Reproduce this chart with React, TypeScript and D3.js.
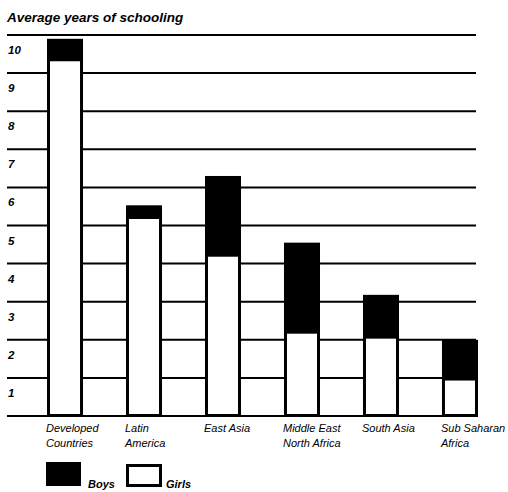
import * as d3 from 'd3';

const regions = [
  ['Developed', 'Countries'],
  ['Latin', 'America'],
  ['East Asia'],
  ['Middle East', 'North Africa'],
  ['South Asia'],
  ['Sub Saharan', 'Africa'],
];
const boys = [9.9, 5.53, 6.3, 4.55, 3.18, 2.0];
const girls = [9.35, 5.21, 4.22, 2.2, 2.07, 0.97];
const yTicks = [1, 2, 3, 4, 5, 6, 7, 8, 9, 10];

const W = 508;
const H = 492;
const FONT = '"Liberation Sans", Arial, sans-serif';

export default function App() {
  const y = d3.scaleLinear().domain([0, 10]).range([416, 35]);
  const x = d3
    .scaleBand<number>()
    .domain(d3.range(regions.length))
    .range([47, 478])
    .paddingInner(0.544)
    .paddingOuter(0);
  const bw = x.bandwidth();
  const sw = 3;

  return (
    <svg
      width={W}
      height={H}
      style={{ position: 'absolute', left: 0, top: 0, background: '#fff' }}
      fontFamily={FONT}
    >
      <text x={7} y={22} fontSize={13.5} fontWeight="bold" fontStyle="italic">
        Average years of schooling
      </text>

      {/* grid */}
      {[0, ...yTicks].map((t) => (
        <line key={t} x1={7} x2={476} y1={y(t)} y2={y(t)} stroke="#000" strokeWidth={2} />
      ))}
      {yTicks.map((t) => (
        <text key={t} x={8} y={y(t) + 19} fontSize={11.5} fontWeight="bold" fontStyle="italic">
          {t}
        </text>
      ))}

      {/* bars */}
      {regions.map((_, i) => {
        const x0 = x(i) as number;
        return (
          <g key={i}>
            <rect x={x0} y={y(boys[i])} width={bw} height={y(girls[i]) - y(boys[i])} fill="#000" />
            <rect
              x={x0 + sw / 2}
              y={y(girls[i])}
              width={bw - sw}
              height={y(0) - y(girls[i]) - sw / 2 + 1}
              fill="#fff"
              stroke="#000"
              strokeWidth={sw}
            />
          </g>
        );
      })}

      {/* category labels */}
      {regions.map((lines, i) => (
        <text key={i} x={(x(i) as number) - 1} y={432} fontSize={11} fontStyle="italic">
          {lines.map((l, j) => (
            <tspan key={j} x={(x(i) as number) - 1} dy={j === 0 ? 0 : 15}>
              {l}
            </tspan>
          ))}
        </text>
      ))}

      {/* legend */}
      <rect x={46} y={462} width={35} height={24} fill="#000" />
      <text x={88} y={488} fontSize={11} fontWeight="bold" fontStyle="italic">
        Boys
      </text>
      <rect x={127.5} y={465.5} width={33} height={20} fill="#fff" stroke="#000" strokeWidth={3} />
      <text x={166} y={488} fontSize={11} fontWeight="bold" fontStyle="italic">
        Girls
      </text>
    </svg>
  );
}
